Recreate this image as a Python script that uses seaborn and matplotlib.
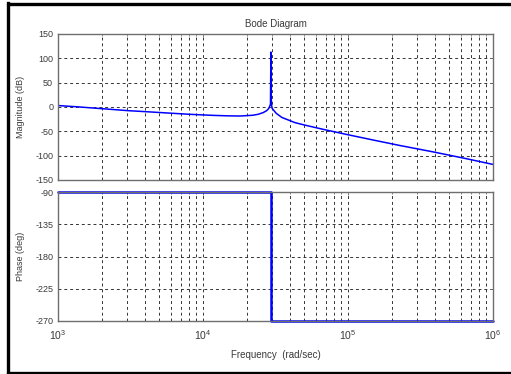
import matplotlib
matplotlib.use("Agg")
import matplotlib.pyplot as plt
import matplotlib.ticker as mticker
from matplotlib.lines import Line2D
import numpy as np
import pandas as pd
import seaborn as sns

# Magnitude response samples (rad/sec, dB)
mag_freq = [1000, 1370, 1860, 2360, 3040, 3980, 5000, 6200, 8100, 10000,
            12000, 15000, 18000, 22000, 24000, 26000, 27500, 28500, 29200,
            29400, 29600, 30000, 32000, 35000, 43000, 50000, 70000, 100000,
            150000, 227000, 383000, 650000, 1000000]
mag_db = [3, 0.3, -2.7, -5, -7.5, -9.5, -11.3, -13, -15, -16.3,
          -17.3, -18.2, -18.5, -17, -15, -11.5, -7.5, -2.5, 6,
          113, 6, -3, -13, -21.5, -32, -37, -47, -57,
          -68, -79, -92, -106, -118]

# Phase response samples (rad/sec, deg)
phase_freq = [1000, 29400, 29400, 1000000]
phase_deg = [-90, -90, -270, -270]

mag_ticks = [-150, -100, -50, 0, 50, 100, 150]
phase_ticks = [-270, -225, -180, -135, -90]
freq_ticks = [1e3, 1e4, 1e5, 1e6]
freq_labels = [r"$10^{3}$", r"$10^{4}$", r"$10^{5}$", r"$10^{6}$"]

sns.set_style("white")
plt.rcParams["font.family"] = ["Liberation Sans", "DejaVu Sans"]
plt.rcParams["mathtext.default"] = "regular"
plt.rcParams["axes.unicode_minus"] = False

text_color = "#3a3a3a"
line_color = "#0000ff"

fig = plt.figure(figsize=(5.11, 3.74), dpi=100)
fig.patch.set_facecolor("white")

W, H = 511, 374
def frac(x0, y0, x1, y1):
    return [x0 / W, 1 - y1 / H, (x1 - x0) / W, (y1 - y0) / H]

ax_mag = fig.add_axes(frac(58, 34, 493, 180))
ax_ph = fig.add_axes(frac(58, 192, 493, 321))

mag_df = pd.DataFrame({"freq": mag_freq, "mag": mag_db})
ph_df = pd.DataFrame({"freq": phase_freq, "phase": phase_deg})

sns.lineplot(data=mag_df, x="freq", y="mag", ax=ax_mag, sort=False,
             estimator=None, color=line_color, lw=1.1)
sns.lineplot(data=ph_df, x="freq", y="phase", ax=ax_ph, sort=False,
             estimator=None, color=line_color, lw=1.8, clip_on=False)

for ax in (ax_mag, ax_ph):
    ax.set_xscale("log")
    ax.set_xlim(1e3, 1e6)
    ax.xaxis.set_major_locator(mticker.FixedLocator(freq_ticks))
    ax.xaxis.set_minor_locator(mticker.LogLocator(base=10, subs=np.arange(2, 10)))
    ax.grid(True, which="both", axis="x", color="#333333", lw=0.7,
            linestyle=(0, (3, 3)))
    ax.grid(True, which="major", axis="y", color="#333333", lw=0.7,
            linestyle=(0, (3, 3)))
    for sp in ax.spines.values():
        sp.set_color("#6e6e6e")
        sp.set_linewidth(1.0)
        sp.set_visible(True)
    ax.tick_params(axis="both", which="both", direction="in", colors="#6e6e6e",
                   labelcolor=text_color, labelsize=6.5, length=2, width=0.6,
                   top=True, right=True)
    ax.tick_params(axis="both", which="minor", length=1.5)
    ax.set_axisbelow(True)

ax_mag.set_ylim(-150, 150)
ax_mag.set_yticks(mag_ticks)
ax_mag.set_xticklabels([])
ax_mag.set_xlabel("")
ax_mag.set_ylabel("Magnitude (dB)", fontsize=6.5, color=text_color)
ax_mag.set_title("Bode Diagram", fontsize=7, color=text_color, pad=5)

ax_ph.set_ylim(-270, -90)
ax_ph.set_yticks(phase_ticks)
ax_ph.set_xticklabels(freq_labels)
ax_ph.tick_params(axis="x", pad=5, labelsize=7.5)
ax_ph.set_ylabel("Phase (deg)", fontsize=6.5, color=text_color)
ax_ph.set_xlabel("Frequency  (rad/sec)", fontsize=7, color=text_color,
                 labelpad=6)

ax_mag.yaxis.set_label_coords(-0.075, 0.5)
ax_ph.yaxis.set_label_coords(-0.075, 0.5)

# frame around the figure (left, top, bottom)
lw = 2.4
fig.add_artist(Line2D([8 / W, 8 / W], [0, 1 - 3 / H], color="black", lw=lw,
                      transform=fig.transFigure, solid_capstyle="projecting"))
fig.add_artist(Line2D([8 / W, 1], [1 - 4 / H, 1 - 4 / H], color="black", lw=lw,
                      transform=fig.transFigure))
fig.add_artist(Line2D([8 / W, 1], [1 - 372.5 / H, 1 - 372.5 / H], color="black",
                      lw=lw, transform=fig.transFigure))

fig.savefig("out.png", dpi=100, facecolor="white")
